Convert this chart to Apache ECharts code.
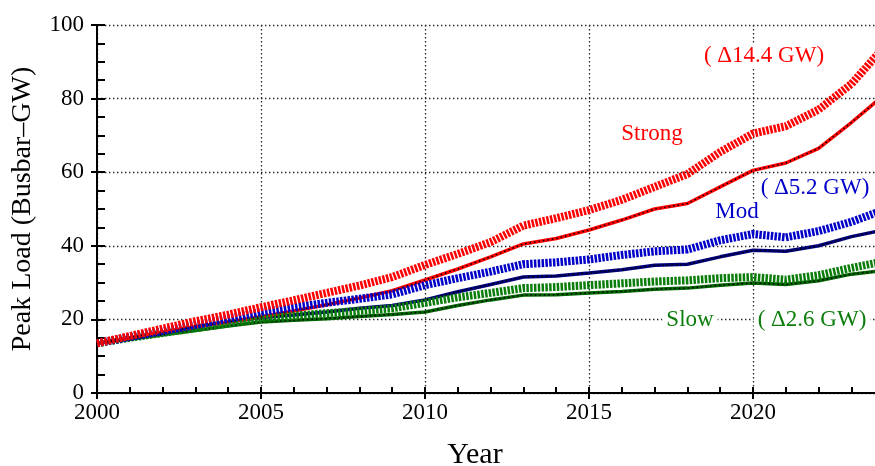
<!DOCTYPE html>
<html>
<head>
<meta charset="utf-8">
<script src="https://cdn.jsdelivr.net/npm/echarts@6/dist/echarts.min.js"></script>
<style>
  html, body { margin: 0; padding: 0; background: #fff; }
  #chart { width: 875px; height: 466px; }
</style>
</head>
<body>
<div id="chart"></div>
<script>
// Years of the projection
const years = [2000, 2001, 2002, 2003, 2004, 2005, 2006, 2007, 2008, 2009, 2010, 2011,
               2012, 2013, 2014, 2015, 2016, 2017, 2018, 2019, 2020, 2021, 2022, 2023, 2024];

// Peak load (busbar GW) — base cases
const strongBase = [13.5, 15.0, 16.5, 18.0, 19.3, 20.7, 22.3, 24.0, 25.8, 27.8, 30.7, 33.7,
                    37.0, 40.5, 42.0, 44.3, 47.0, 50.0, 51.5, 56.0, 60.5, 62.5, 66.5, 73.5, 81.0];
const modBase    = [13.5, 15.0, 16.5, 18.0, 19.3, 20.5, 21.2, 22.0, 23.0, 23.8, 25.3, 27.5,
                    29.5, 31.5, 31.8, 32.6, 33.5, 34.7, 35.0, 37.0, 38.8, 38.5, 40.0, 42.5, 44.3];
const slowBase   = [13.5, 14.6, 15.8, 17.0, 18.2, 19.3, 19.8, 20.2, 20.8, 21.3, 22.0, 23.8,
                    25.3, 26.6, 26.7, 27.2, 27.6, 28.2, 28.5, 29.3, 29.9, 29.5, 30.5, 32.3, 33.3];

// Peak load (busbar GW) — upper cases
const strongHigh = [13.5, 15.5, 17.5, 19.5, 21.3, 23.3, 25.2, 27.2, 29.2, 31.5, 34.8, 37.8,
                    41.0, 45.5, 47.5, 49.7, 52.5, 56.0, 59.5, 65.5, 70.5, 72.5, 77.0, 84.0, 94.0];
const modHigh    = [13.5, 15.2, 16.8, 18.5, 20.2, 22.0, 23.3, 24.5, 25.6, 26.8, 29.3, 31.2,
                    33.0, 35.0, 35.5, 36.3, 37.5, 38.5, 39.0, 41.5, 43.2, 42.3, 44.0, 46.5, 49.8];
const slowHigh   = [13.5, 15.0, 16.3, 17.6, 18.9, 20.3, 21.0, 21.7, 22.3, 23.0, 24.5, 26.0,
                    27.2, 28.5, 28.8, 29.3, 29.8, 30.3, 30.6, 31.2, 31.5, 30.8, 32.0, 34.0, 35.8];

const FONT = '"Liberation Serif", "DejaVu Serif", serif';
const pairs = vals => years.map((y, i) => [y, vals[i]]);

// Base case: coloured line with a black dotted core
function baseLine(vals, color) {
  return [
    { type: 'line', data: pairs(vals), symbol: 'none', z: 2,
      lineStyle: { color: color, width: 3.5 } },
    { type: 'line', data: pairs(vals), symbol: 'none', z: 3,
      lineStyle: { color: '#000', width: 1.5, type: [1.5, 3] } }
  ];
}
// Upper case: broad hatched stroke
function bandLine(vals, color, z) {
  return { type: 'line', data: pairs(vals), symbol: 'none', z: z,
    lineStyle: { color: color, width: 8, type: [2.5, 1.3], cap: 'butt' } };
}

const gridDots = { show: true, lineStyle: { color: '#222', width: 1.3, type: [1.4, 2.6] } };
const plain = v => String(v);

const chart = echarts.init(document.getElementById('chart'));
chart.setOption({
  animation: false,
  backgroundColor: '#fff',
  grid: { left: 97, right: -42, top: 25, bottom: 73, containLabel: false, outerBoundsMode: 'none' },
  xAxis: [
    { type: 'value', min: 2000, max: 2025, interval: 5, position: 'bottom',
      axisLine: { lineStyle: { color: '#000', width: 2 } },
      axisTick: { show: true, inside: false, length: 6, lineStyle: { color: '#000', width: 2 } },
      axisLabel: { color: '#000', fontFamily: FONT, fontSize: 23, margin: 8, formatter: plain },
      splitLine: gridDots },
    { type: 'value', min: 2000, max: 2025, interval: 1, position: 'bottom',
      axisLine: { show: false },
      axisTick: { show: true, inside: true, length: 6, lineStyle: { color: '#000', width: 2 } },
      axisLabel: { show: false }, splitLine: { show: false } }
  ],
  yAxis: [
    { type: 'value', min: 0, max: 100, interval: 20, position: 'left',
      name: 'Peak Load (Busbar\u2013GW)', nameLocation: 'middle', nameGap: 60, nameRotate: 90,
      nameTextStyle: { color: '#000', fontFamily: FONT, fontSize: 28 },
      axisLine: { show: true, lineStyle: { color: '#000', width: 2 } },
      axisTick: { show: true, inside: false, length: 6, lineStyle: { color: '#000', width: 2 } },
      axisLabel: { color: '#000', fontFamily: FONT, fontSize: 23, margin: 13, formatter: plain },
      splitLine: gridDots },
    { type: 'value', min: 0, max: 100, interval: 5, position: 'left',
      axisLine: { show: false },
      axisTick: { show: true, inside: true, length: 8, lineStyle: { color: '#000', width: 2 } },
      axisLabel: { show: false }, splitLine: { show: false } }
  ],
  series: [
    ...baseLine(slowBase, '#006400'),
    ...baseLine(modBase, '#00007a'),
    ...baseLine(strongBase, '#ff0000'),
    bandLine(slowHigh, '#0b7d0b', 4),
    bandLine(modHigh, '#0000c8', 5),
    bandLine(strongHigh, '#ff0000', 6)
  ],
  graphic: [
    { type: 'text', x: 475, y: 455, z: 50,
      style: { text: 'Year', fill: '#000', font: '30px ' + FONT, align: 'center', verticalAlign: 'middle' } },
    { type: 'text', x: 764, y: 56, z: 50,
      style: { text: '( \u039414.4 GW)', fill: '#ff0000', font: '23px ' + FONT, align: 'center', verticalAlign: 'middle',
               backgroundColor: '#fff', padding: [0, 2] } },
    { type: 'text', x: 652, y: 134, z: 50,
      style: { text: 'Strong', fill: '#ff0000', font: '23px ' + FONT, align: 'center', verticalAlign: 'middle',
               backgroundColor: '#fff', padding: [0, 2] } },
    { type: 'text', x: 815, y: 188, z: 50,
      style: { text: '( \u03945.2 GW)', fill: '#0000c8', font: '23px ' + FONT, align: 'center', verticalAlign: 'middle',
               backgroundColor: '#fff', padding: [0, 2] } },
    { type: 'text', x: 737, y: 212, z: 50,
      style: { text: 'Mod', fill: '#0000c8', font: '23px ' + FONT, align: 'center', verticalAlign: 'middle',
               backgroundColor: '#fff', padding: [0, 2] } },
    { type: 'text', x: 690, y: 320, z: 50,
      style: { text: 'Slow', fill: '#0b7d0b', font: '23px ' + FONT, align: 'center', verticalAlign: 'middle',
               backgroundColor: '#fff', padding: [0, 4] } },
    { type: 'text', x: 812, y: 320, z: 50,
      style: { text: '( \u03942.6 GW)', fill: '#0b7d0b', font: '23px ' + FONT, align: 'center', verticalAlign: 'middle',
               backgroundColor: '#fff', padding: [0, 4] } }
  ]
});
</script>
</body>
</html>
